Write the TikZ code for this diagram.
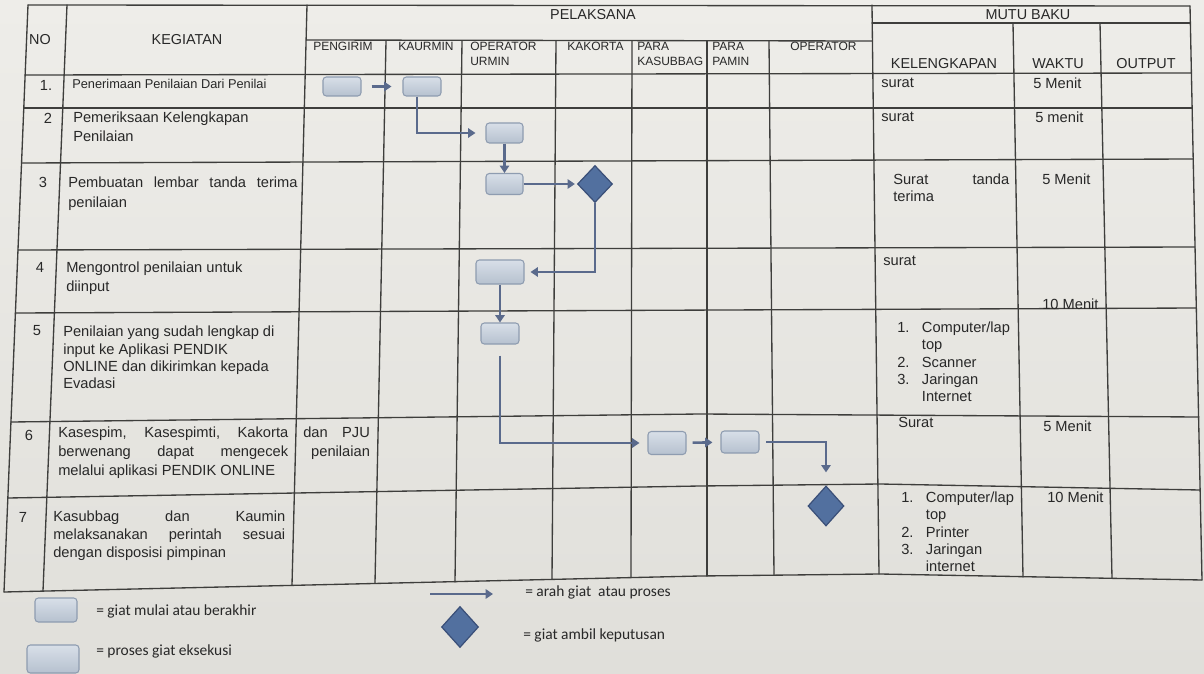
\documentclass[tikz,border=0pt]{standalone}
\usepackage{fontspec}
\setmainfont{Liberation Sans}
\newfontfamily\legendfont{Carlito}
\usetikzlibrary{shapes.geometric,arrows.meta}
\definecolor{papertop}{HTML}{EEEDE9}
\definecolor{paperbot}{HTML}{E0DFDA}
\definecolor{linec}{HTML}{3E3E3C}
\definecolor{textc}{HTML}{282828}
\definecolor{boxtop}{HTML}{D8DFE8}
\definecolor{boxbot}{HTML}{B6C1CF}
\definecolor{boxline}{HTML}{8E9CB0}
\definecolor{diafill}{HTML}{52709F}
\definecolor{diadraw}{HTML}{3A4F78}
\definecolor{arrc}{HTML}{5A6A8C}
\newcommand\bodyf{\fontsize{11}{14}\selectfont}
\newcommand\rowonef{\fontsize{9.6}{12}\selectfont}
\newcommand\smallf{\fontsize{9}{11.25}\selectfont}
\newcommand\headf{\fontsize{10.8}{13}\selectfont}
\newcommand\listf{\fontsize{11}{13}\selectfont}
\newcommand\legf{\legendfont\fontsize{11.6}{13}\selectfont}
\begin{document}
\begin{tikzpicture}[x=0.75pt,y=-0.75pt,
  grid/.style={draw=linec, line width=1pt, line cap=round, line join=round},
  startbox/.style={rectangle, rounded corners=2.5pt, top color=boxtop, bottom color=boxbot, draw=boxline, line width=0.8pt, inner sep=0pt},
  decision/.style={diamond, fill=diafill, draw=diadraw, line width=0.9pt, inner sep=0pt},
  flow/.style={draw=arrc, line width=1.9pt, -{Triangle[length=5.5pt,width=7pt]}},
  hd/.style={inner sep=0pt, font=\headf, text=textc},
  sh/.style={inner sep=0pt, anchor=north west, font=\smallf, text=textc, align=left},
  bt/.style={inner sep=0pt, anchor=north west, font=\bodyf, text=textc, align=left},
  num/.style={inner sep=0pt, font=\bodyf, text=textc},
  legt/.style={inner sep=0pt, anchor=west, font=\legf, text=textc}]
\shade[top color=papertop, bottom color=paperbot] (0,0) rectangle (1204,674);
\useasboundingbox (0,0) rectangle (1204,674);

% ---------- table grid ----------
\draw[grid] (28,5) -- (1190,6);
\draw[grid] (307,40) -- (872,41);
\draw[grid] (872,23) -- (1190,23);
\draw[grid] (25,75) -- (1191,73);
\draw[grid] (24,108) -- (1192,108);
\draw[grid] (21.5,163) -- (1193,159);
\draw[grid] (18,250) -- (1195,247);
\draw[grid] (15.4,313) -- (1196,308);
\draw[grid] (10.9,422) -- (700,414) -- (1198.6,417);
\draw[grid] (7.8,498) -- (700,486) -- (880,484) -- (1200,490);
\draw[grid] (4,592) -- (700,576) -- (880,574) -- (1202,580);
\draw[grid] (28,5) -- (4,592);
\draw[grid] (67,5) -- (43,591);
\draw[grid] (307,5) -- (292,585);
\draw[grid] (386,41) -- (375,583);
\draw[grid] (462,41) -- (455,582);
\draw[grid] (556,41) -- (552,579);
\draw[grid] (632,41) -- (631,577);
\draw[grid] (707,41) -- (707,576);
\draw[grid] (769,41) -- (774,575);
\draw[grid] (872,5) -- (879,574);
\draw[grid] (1013,23) -- (1023,577);
\draw[grid] (1100,23) -- (1112,578);
\draw[grid] (1190,6) -- (1202,580);

% ---------- headers ----------
\node[hd] (hno) at (40,40) {NO};
\node[hd] (hkeg) at (187,40) {KEGIATAN};
\node[hd] (hpel) at (593,15) {PELAKSANA};
\node[hd] (hmutu) at (1028,15) {MUTU BAKU};
\node[hd] (hkel) at (944,64) {KELENGKAPAN};
\node[hd] (hwak) at (1058,64) {WAKTU};
\node[hd] (hout) at (1146,64) {OUTPUT};
\node[sh] (s1) at (313,42) {PENGIRIM};
\node[sh] (s2) at (398,42) {KAURMIN};
\node[sh] (s3) at (470,42) {OPERATOR\\URMIN};
\node[sh] (s4) at (567,42) {KAKORTA};
\node[sh] (s5) at (637,42) {PARA\\KASUBBAG};
\node[sh] (s6) at (712,42) {PARA\\PAMIN};
\node[sh] (s7) at (790,42) {OPERATOR};

% ---------- row numbers ----------
\node[num] (n1) at (46,85) {1.};
\node[num] (n2) at (48,118) {2};
\node[num] (n3) at (43,182) {3};
\node[num] (n4) at (40,267) {4};
\node[num] (n5) at (37,331) {5};
\node[num] (n6) at (29,435) {6};
\node[num] (n7) at (23,517) {7};

% ---------- kegiatan ----------
\node[bt, font=\rowonef] (k1) at (72,79) {Penerimaan Penilaian Dari Penilai};
\node[bt] (k2) at (73,112) {Pemeriksaan Kelengkapan\\Penilaian};
\node[bt, text width=172pt, align=justify, font=\fontsize{11}{15}\selectfont] (k3) at (68,177) {Pembuatan lembar tanda terima\linebreak penilaian};
\node[bt] (k4) at (66,262) {Mengontrol penilaian untuk\\diinput};
\node[bt, font=\fontsize{11}{13}\selectfont] (k5) at (63,326) {Penilaian yang sudah lengkap di\\input ke Aplikasi PENDIK\\ONLINE dan dikirimkan kepada\\Evadasi};
\node[bt, text width=172.5pt, align=justify] (k6) at (58,427) {Kasespim, Kasespimti, Kakorta\linebreak berwenang dapat mengecek\linebreak melalui aplikasi PENDIK ONLINE};
\node[bt, text width=50pt, align=right] (k6b) at (303,427) {dan\hspace{\fill}PJU\\penilaian};
\node[bt, text width=174pt, align=justify, font=\fontsize{11}{13.5}\selectfont] (k7) at (53,511) {Kasubbag dan Kaumin\linebreak melaksanakan perintah sesuai\linebreak dengan disposisi pimpinan};

% ---------- mutu baku ----------
\node[bt] (m1a) at (881,78) {surat};
\node[bt] (m1b) at (1033,78) {5 Menit};
\node[bt] (m2a) at (881,112) {surat};
\node[bt] (m2b) at (1035,112) {5 menit};
\node[bt, text width=87pt, font=\fontsize{11}{12.75}\selectfont] (m3a) at (893,174) {Surat\hspace{\fill}tanda\\terima};
\node[bt] (m3b) at (1042,174) {5 Menit};
\node[bt] (m4a) at (883,256) {surat};
\node[bt] (m4b) at (1042,299) {10 Menit};
\node[bt, font=\listf] (m5) at (897,320) {\begin{tabular}{@{}p{18.5pt}@{}l@{}}1.&Computer/lap\\&top\\2.&Scanner\\3.&Jaringan\\&Internet\end{tabular}};
\node[bt] (m6a) at (898,417) {Surat};
\node[bt] (m6b) at (1043,421) {5 Menit};
\node[bt, font=\listf] (m7) at (901,490) {\begin{tabular}{@{}p{18.5pt}@{}l@{}}1.&Computer/lap\\&top\\2.&Printer\\3.&Jaringan\\&internet\end{tabular}};
\node[bt] (m7b) at (1047,492) {10 Menit};

% ---------- flow ----------
\node[startbox, minimum width=28.5pt, minimum height=14.25pt] (b1) at (342,86.5) {};
\node[startbox, minimum width=28.5pt, minimum height=14.25pt] (b2) at (422,86.5) {};
\node[startbox, minimum width=27.75pt, minimum height=15pt] (b3) at (504.5,133) {};
\node[startbox, minimum width=27.75pt, minimum height=15.75pt] (b4) at (504.5,184) {};
\node[decision, minimum width=26.25pt, minimum height=27.75pt] (d1) at (595,184) {};
\node[startbox, minimum width=36pt, minimum height=18pt] (b5) at (500,272) {};
\node[startbox, minimum width=28.5pt, minimum height=15.75pt] (b6) at (500,333.5) {};
\node[startbox, minimum width=28.5pt, minimum height=17.25pt] (b7) at (667,443) {};
\node[startbox, minimum width=28.5pt, minimum height=16.5pt] (b8) at (740,442) {};
\node[decision, minimum width=27pt, minimum height=30pt] (d2) at (826,506) {};

\draw[flow, shorten <=7.5pt, shorten >=8.25pt] (b1) -- (b2);
\draw[flow, shorten >=7.5pt] ([xshift=-3.75pt]b2.south) |- (b3.west);
\draw[flow] (b3) -- (b4);
\draw[flow, shorten >=1.5pt] (b4) -- (d1);
\draw[flow, shorten >=4.5pt] (d1.south) |- (b5.east);
\draw[flow] (b5) -- (b6);
\draw[flow, shorten <=8.25pt, shorten >=6pt] (b6.south) |- (b7.west);
\draw[flow, shorten <=4.5pt, shorten >=6pt] (b7) -- (b8);
\draw[flow, shorten <=5pt, shorten >=9.75pt] (b8.east) -| (d2.north);

% ---------- legend ----------
\node[startbox, minimum width=31.5pt, minimum height=18pt] (lb1) at (56,610) {};
\node[legt] (lt1) at (96,611) {= giat mulai atau berakhir};
\node[startbox, minimum width=39pt, minimum height=21pt] (lb2) at (53,659) {};
\node[legt] (lt2) at (96,651) {= proses giat eksekusi};
\coordinate (la1) at (430,594);
\coordinate (la2) at (493,594);
\draw[flow] (la1) -- (la2);
\node[legt] (lt3) at (525,592) {= arah giat\ \ atau proses};
\node[decision, minimum width=27.75pt, minimum height=30.75pt] (ld) at (460,627) {};
\node[legt] (lt4) at (523,635) {= giat ambil keputusan};
\end{tikzpicture}
\end{document}
